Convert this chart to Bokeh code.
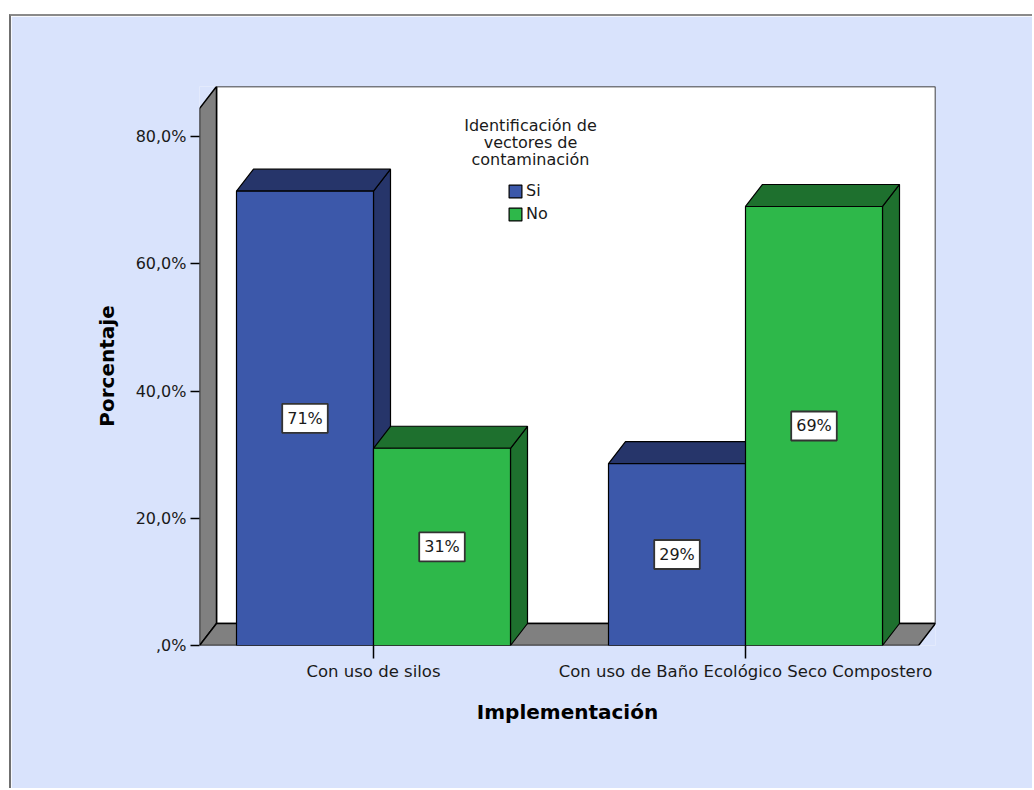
import numpy as np
from bokeh.plotting import figure
from bokeh.models import ColumnDataSource, Legend, LegendItem, FixedTicker
from bokeh.core.properties import value
from bokeh.embed import file_html
from bokeh.resources import INLINE

# ---------------- data ----------------
categories = ["Con uso de silos", "Con uso de Baño Ecológico Seco Compostero"]
series_names = ["Si", "No"]
si_values = [71.4, 28.6]
no_values = [31.0, 69.0]
y_ticks = [0, 20, 40, 60, 80]
y_tick_labels = [",0%", "20,0%", "40,0%", "60,0%", "80,0%"]
legend_title = ["Identificación de", "vectores de", "contaminación"]
x_title = "Implementación"
y_title = "Porcentaje"

# ---------------- styles ----------------
FONT = "DejaVu Sans"
PANEL_BG = "#D9E3FC"
WALL_GRAY = "#808080"
FRONT = {"Si": "#3C58AA", "No": "#2EB84A"}
DARK = {"Si": "#26356A", "No": "#1E702E"}
TEXT_COLOR = "#1a1a1a"

# ---------------- layout (page pixels) ----------------
W, H = 1034, 790
OX, OY = 11, 16                         # panel content origin on the page
FL, FR, FT, FB = 199, 935, 86, 645      # frame edges on the page
PX_PER_X = 372.0                        # pixels per category step
PX_PER_Y = (645 - 136) / 80.0           # pixels per percent
DEPTH_PX_X, DEPTH_PX_Y = 17, 22         # 3D depth offset
BAR_W = 137 / PX_PER_X

x0 = -(373 - FL) / PX_PER_X
x1 = x0 + (FR - FL) / PX_PER_X
y1 = (FB - FT) / PX_PER_Y
dx = DEPTH_PX_X / PX_PER_X
dy = DEPTH_PX_Y / PX_PER_Y


def X(px):
    return x0 + (px - FL) / PX_PER_X


def Y(py):
    return (FB - py) / PX_PER_Y


cat_x = np.arange(len(categories), dtype=float)

p = figure(width=W - OX, height=H - OY, x_range=(x0, x1), y_range=(0, y1),
           output_backend="svg", toolbar_location=None,
           min_border_left=FL - OX, min_border_right=W - FR,
           min_border_top=FT - OY, min_border_bottom=H - FB)
p.styles = {"margin-left": f"{OX - 2}px", "margin-top": f"{OY - 2}px",
            "border-left": "2px solid #6f6f6f",
            "border-top": "2px solid #8a8a8a"}
p.border_fill_color = PANEL_BG
p.background_fill_color = PANEL_BG
p.outline_line_color = None
p.xgrid.visible = False
p.ygrid.visible = False

# ---------------- 3D box: back wall, left wall, floor ----------------
wall_top_front = y1 - dy
floor_right_front = x1 - dx
walls = ColumnDataSource(dict(
    xs=[[x0 + dx, x1, x1, x0 + dx],
        [x0, x0 + dx, x0 + dx, x0],
        [x0, floor_right_front, x1, x0 + dx]],
    ys=[[dy, dy, y1, y1],
        [0, dy, y1, wall_top_front],
        [0, 0, dy, dy]],
    color=["white", WALL_GRAY, WALL_GRAY],
))
p.patches("xs", "ys", source=walls, fill_color="color", line_color="black",
          line_width=1.5)

# ---------------- bars ----------------
bars = []
for i, cx in enumerate(cat_x):
    bars.append(("Si", cx - BAR_W, cx, si_values[i]))
    bars.append(("No", cx, cx + BAR_W, no_values[i]))

side_xs, side_ys, top_xs, top_ys, dark_cols = [], [], [], [], []
for s, L, R, T in bars:
    side_xs.append([R, R + dx, R + dx, R])
    side_ys.append([0, dy, T + dy, T])
    top_xs.append([L, L + dx, R + dx, R])
    top_ys.append([T, T + dy, T + dy, T])
    dark_cols.append(DARK[s])

p.patches("xs", "ys", source=ColumnDataSource(dict(xs=side_xs, ys=side_ys, c=dark_cols)),
          fill_color="c", line_color="black", line_width=1.2)
p.patches("xs", "ys", source=ColumnDataSource(dict(xs=top_xs, ys=top_ys, c=dark_cols)),
          fill_color="c", line_color="black", line_width=1.2)

front_renderers = {}
for s, vals in (("Si", si_values), ("No", no_values)):
    left = cat_x + (-BAR_W if s == "Si" else 0.0)
    right = left + BAR_W
    src = ColumnDataSource(dict(left=left, right=right,
                                bottom=np.zeros(len(vals)), top=vals))
    front_renderers[s] = p.quad(left="left", right="right", bottom="bottom",
                                top="top", source=src, fill_color=FRONT[s],
                                line_color="black", line_width=1.2)

# value labels
lab_x, lab_y, lab_t = [], [], []
for s, L, R, T in bars:
    lab_x.append((L + R) / 2)
    lab_y.append(T / 2)
    lab_t.append(f"{round(T)}%")
p.text(x=lab_x, y=lab_y, text=lab_t, text_align="center",
       text_baseline="middle", text_font=value(FONT), text_font_size="16px",
       text_color=TEXT_COLOR, background_fill_color="white",
       border_line_color="#333333", border_line_width=1.8, padding=5)

# ---------------- legend ----------------
title_ys = [Y(125 + 17 * k) for k in range(len(legend_title))]
p.text(x=[X(530)] * len(legend_title), y=title_ys, text=legend_title,
       text_align="center", text_baseline="middle", text_font=value(FONT),
       text_font_size="16px", text_color=TEXT_COLOR)

legend = Legend(items=[LegendItem(label=n, renderers=[front_renderers[n]])
                       for n in series_names],
                location=(507 - FL, FB - 223),
                glyph_width=16, glyph_height=16, label_height=16,
                label_width=20, spacing=4, padding=0, margin=0,
                label_standoff=3, border_line_color=None,
                background_fill_alpha=0.0,
                label_text_font=FONT, label_text_font_size="16px",
                label_text_color=TEXT_COLOR)
p.add_layout(legend)

# ---------------- axes ----------------
ya = p.yaxis[0]
ya.ticker = FixedTicker(ticks=y_ticks)
ya.major_label_overrides = {t: l for t, l in zip(y_ticks, y_tick_labels)}
ya.axis_line_color = None
ya.major_tick_in = 0
ya.major_tick_out = 9
ya.major_tick_line_color = "black"
ya.major_tick_line_width = 1.5
ya.minor_tick_line_color = None
ya.major_label_text_font = FONT
ya.major_label_text_font_size = "16px"
ya.major_label_text_color = TEXT_COLOR
ya.major_label_standoff = 4
ya.axis_label = y_title
ya.axis_label_text_font = FONT
ya.axis_label_text_font_style = "bold"
ya.axis_label_text_font_size = "20px"
ya.axis_label_text_color = "black"
ya.axis_label_standoff = 14

xa = p.xaxis[0]
xa.ticker = FixedTicker(ticks=list(cat_x))
xa.major_label_overrides = {float(c): lab for c, lab in zip(cat_x, categories)}
xa.axis_line_color = None
xa.major_tick_in = 0
xa.major_tick_out = 13
xa.major_tick_line_color = "black"
xa.major_tick_line_width = 1.5
xa.minor_tick_line_color = None
xa.major_label_text_font = FONT
xa.major_label_text_font_size = "16.5px"
xa.major_label_text_color = TEXT_COLOR
xa.major_label_standoff = 3
xa.axis_label = x_title
xa.axis_label_text_font = FONT
xa.axis_label_text_font_style = "bold"
xa.axis_label_text_font_size = "20px"
xa.axis_label_text_color = "black"
xa.axis_label_standoff = 16

open("out.html", "w").write(file_html(p, INLINE))
